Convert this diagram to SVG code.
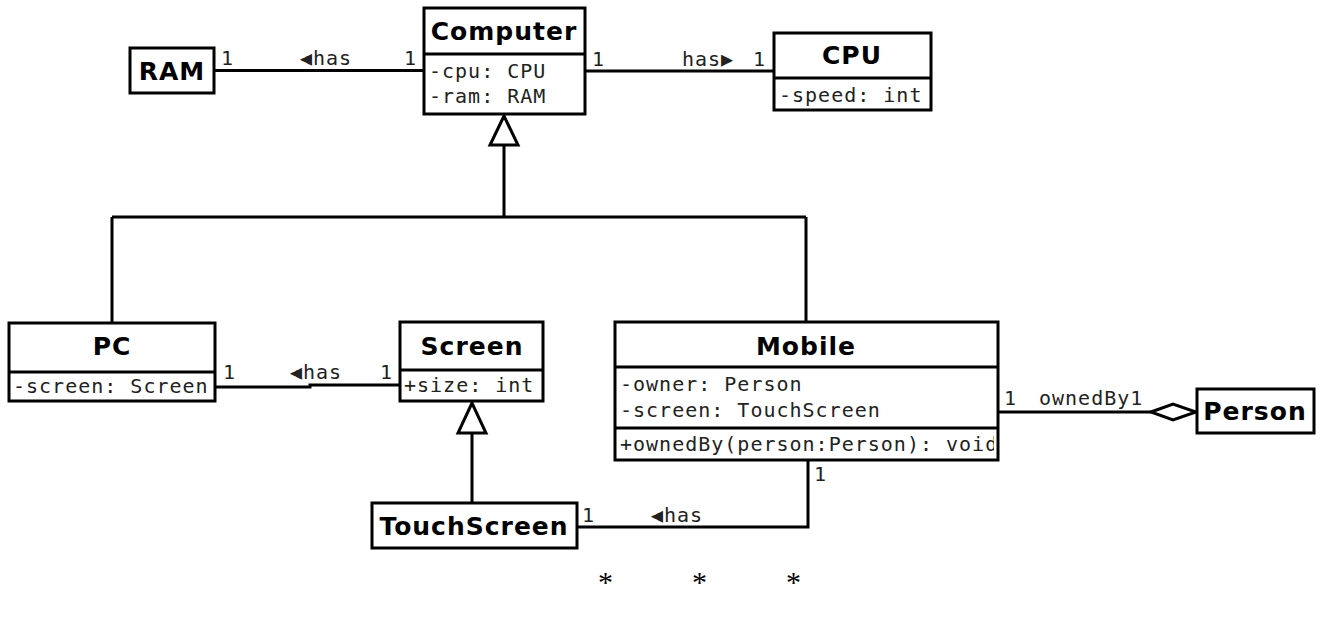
<svg xmlns="http://www.w3.org/2000/svg" width="1324" height="624" viewBox="0 0 1324 624">
<style>
.box{fill:#fff;stroke:#000;stroke-width:3}
.div{stroke:#000;stroke-width:3}
.ln{fill:none;stroke:#000;stroke-width:3}
.t{font-family:"DejaVu Sans",sans-serif;font-weight:bold;font-size:25px;letter-spacing:1px;text-anchor:middle;fill:#000}
.m{font-family:"DejaVu Sans Mono",monospace;font-size:20px;letter-spacing:1px;fill:#222}
.s{font-family:"Liberation Serif",serif;font-size:30px;fill:#000}
</style>
<defs>
<clipPath id="mclip"><rect x="615" y="428" width="379" height="32"/></clipPath>
</defs>
<g id="connectors">
<path class="ln" d="M214 70.5 H424"/>
<path class="ln" d="M585 71 H774"/>
<path class="ln" d="M504 145 V217 M112 217 H806 M112 217 V323 M806 217 V322"/>
<polygon class="ln" points="504,116 490,145 518,145" fill="#fff"/>
<path class="ln" d="M215 387 H310 V385 H400"/>
<path class="ln" d="M472 433 V503"/>
<polygon class="ln" points="472,403 458,433 486,433" fill="#fff"/>
<path class="ln" d="M577 527 H808 V460"/>
<path class="ln" d="M998 412 H1151"/>
<polygon class="ln" points="1151,412 1173,404 1196,412 1173,420" fill="#fff"/>
<text class="m" x="221" y="65">1</text>
<text class="m" x="300" y="65">◀has</text>
<text class="m" x="404" y="65">1</text>
<text class="m" x="592" y="66">1</text>
<text class="m" x="682" y="66">has▶</text>
<text class="m" x="753" y="66">1</text>
<text class="m" x="223" y="379">1</text>
<text class="m" x="290" y="379">◀has</text>
<text class="m" x="380" y="379">1</text>
<text class="m" x="1004" y="405">1</text>
<text class="m" x="1039" y="405">ownedBy1</text>
<text class="m" x="582" y="522">1</text>
<text class="m" x="651" y="522">◀has</text>
<text class="m" x="814" y="481">1</text>
</g>
<g id="RAM">
<rect class="box" x="130" y="48" width="84" height="45"/>
<text class="t" x="172" y="80">RAM</text>
</g>
<g id="Computer">
<rect class="box" x="424" y="8" width="161" height="106"/>
<line class="div" x1="424" y1="54" x2="585" y2="54"/>
<text class="t" x="504" y="40">Computer</text>
<text class="m" x="429" y="78">-cpu: CPU</text>
<text class="m" x="429" y="103">-ram: RAM</text>
</g>
<g id="CPU">
<rect class="box" x="774" y="33" width="157" height="77"/>
<line class="div" x1="774" y1="78" x2="931" y2="78"/>
<text class="t" x="852" y="64">CPU</text>
<text class="m" x="779" y="102">-speed: int</text>
</g>
<g id="PC">
<rect class="box" x="9" y="323" width="206" height="78"/>
<line class="div" x1="9" y1="372" x2="215" y2="372"/>
<text class="t" x="112" y="355">PC</text>
<text class="m" x="13" y="393">-screen: Screen</text>
</g>
<g id="Screen">
<rect class="box" x="400" y="322" width="143" height="79"/>
<line class="div" x1="400" y1="370" x2="543" y2="370"/>
<text class="t" x="472" y="355">Screen</text>
<text class="m" x="404" y="392">+size: int</text>
</g>
<g id="Mobile">
<rect class="box" x="615" y="322" width="383" height="138"/>
<line class="div" x1="615" y1="367" x2="998" y2="367"/>
<line class="div" x1="615" y1="428" x2="998" y2="428"/>
<text class="t" x="806" y="355">Mobile</text>
<text class="m" x="620" y="391">-owner: Person</text>
<text class="m" x="620" y="417">-screen: TouchScreen</text>
<text class="m" x="620" y="451" clip-path="url(#mclip)">+ownedBy(person:Person): void</text>
</g>
<g id="Person">
<rect class="box" x="1197" y="389" width="117" height="44"/>
<text class="t" x="1255" y="420">Person</text>
</g>
<g id="TouchScreen">
<rect class="box" x="372" y="503" width="205" height="45"/>
<text class="t" x="474" y="535">TouchScreen</text>
</g>
<g id="footer">
<text class="s" x="598" y="592">*</text>
<text class="s" x="692" y="592">*</text>
<text class="s" x="786" y="592">*</text>
</g>
</svg>
